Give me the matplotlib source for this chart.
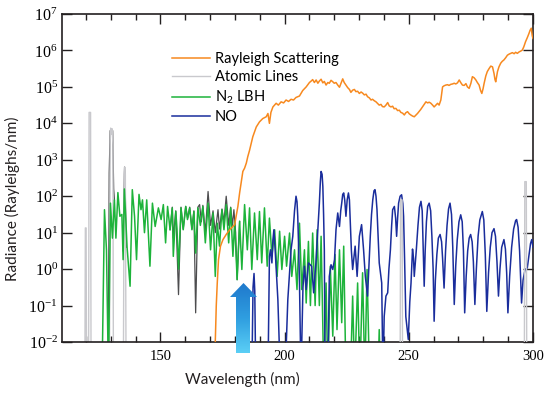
import numpy as np
import matplotlib
matplotlib.use("Agg")
import matplotlib.pyplot as plt
from matplotlib.patches import Polygon
from matplotlib.colors import LinearSegmentedColormap
from matplotlib.ticker import MultipleLocator

plt.rcParams["font.family"] = ["Lato", "DejaVu Sans"]
plt.rcParams["mathtext.fontset"] = "custom"
plt.rcParams["mathtext.rm"] = "Liberation Serif"
plt.rcParams["mathtext.it"] = "Liberation Serif:italic"
plt.rcParams["mathtext.sf"] = "Lato"

nan = float("nan")

# log10 of radiance (Rayleighs/nm); -3 = below the plot
ray_wl = [171.9, 172.1, 172.5, 172.9, 173.4, 174.2, 175.2, 176.5, 177.9, 179.2,
          179.9, 180.5, 181.2, 181.9, 182.5, 183.2, 183.9, 184.6, 185.2, 185.9,
          187.2, 188.6, 189.9, 191.2, 192.6, 193.3, 193.9, 194.5, 195.3, 196.6,
          197.5, 198.6, 199.6, 200.6, 201.6, 202.6, 203.6, 204.6, 206.0, 207.3,
          208.7, 210.0, 210.7, 211.3, 212.0, 212.7, 213.4, 214.0, 214.7, 215.4,
          216.0, 216.7, 217.4, 218.0, 218.7, 219.4, 220.0, 220.7, 221.4, 222.1,
          222.7, 223.4, 224.0, 224.7, 225.4, 226.1, 226.7, 227.4, 228.1, 228.7,
          229.4, 230.1, 230.8, 231.4, 232.1, 232.8, 233.4, 234.1, 234.8, 235.4,
          236.1, 236.8, 237.4, 238.1, 238.8, 239.4, 240.1, 240.8, 241.5, 242.1,
          242.8, 243.5, 244.1, 244.8, 245.5, 246.2, 246.8, 247.5, 248.2, 248.8,
          249.5, 250.2, 250.8, 251.5, 252.2, 252.8, 253.5, 254.2, 254.8, 255.5,
          256.2, 256.9, 257.6, 258.2, 258.9, 259.6, 260.2, 260.9, 261.6, 262.2,
          262.9, 263.6, 264.2, 264.9, 265.6, 266.2, 266.9, 267.6, 268.3, 268.9,
          269.6, 270.3, 270.9, 271.6, 272.3, 273.0, 273.6, 274.3, 275.0, 275.6,
          276.3, 277.0, 277.6, 278.3, 278.9, 279.4, 279.9, 280.3, 281.0, 281.6,
          282.3, 283.0, 283.7, 284.3, 284.7, 285.0, 285.4, 285.7, 286.3, 287.0,
          287.6, 288.3, 289.0, 289.7, 290.4, 291.0, 291.7, 292.4, 293.0, 293.7,
          294.4, 295.0, 295.7, 296.3, 297.0, 297.7, 298.4, 298.8, 299.3, 299.7,
          300.0]
ray_exp = [-3, -2.0, -1.0, -0.38, 0.26, 0.63, 0.81, 0.95, 1.08, 1.17,
           1.22, 1.45, 1.72, 2.09, 2.36, 2.68, 2.77, 2.91, 3.09, 3.26,
           3.63, 3.9, 4.04, 4.13, 4.18, 4.27, 4.0, 4.3, 4.45, 4.55,
           4.5, 4.59, 4.56, 4.64, 4.6, 4.66, 4.64, 4.71, 4.75, 4.9,
           5.0, 5.12, 5.16, 5.2, 5.12, 5.19, 5.1, 5.16, 5.21, 5.11,
           5.15, 5.05, 5.12, 5.1, 5.18, 5.14, 5.1, 5.12, 5.05, 4.99,
           5.1, 5.22, 5.12, 5.05, 4.98, 4.93, 4.85, 4.91, 4.93, 4.87,
           4.88, 4.82, 4.86, 4.83, 4.78, 4.8, 4.73, 4.7, 4.64, 4.66,
           4.62, 4.59, 4.55, 4.5, 4.52, 4.46, 4.45, 4.5, 4.57, 4.48,
           4.45, 4.47, 4.4, 4.41, 4.35, 4.36, 4.3, 4.28, 4.23, 4.29,
           4.32, 4.26, 4.23, 4.2, 4.18, 4.22, 4.27, 4.33, 4.38, 4.45,
           4.52, 4.59, 4.56, 4.58, 4.55, 4.5, 4.45, 4.5, 4.55, 4.5,
           4.64, 5.0, 5.03, 5.05, 5.06, 5.04, 5.07, 5.08, 5.1, 5.08,
           5.11, 5.19, 5.12, 5.05, 5.04, 5.09, 5.0, 4.96, 5.1, 5.28,
           5.25, 5.19, 5.12, 5.05, 4.9, 4.82, 4.95, 5.09, 5.3, 5.42,
           5.5, 5.57, 5.55, 5.37, 5.2, 5.14, 5.3, 5.42, 5.55, 5.65,
           5.7, 5.74, 5.8, 5.87, 5.9, 5.92, 5.94, 5.91, 5.95, 5.92,
           5.96, 5.98, 6.01, 6.1, 6.24, 6.35, 6.47, 6.55, 6.61, 6.4,
           6.33]

atomic_wl = [119.6, 119.8, 120.1, 120.3, 121.1, 121.3, 121.9, 122.1,
             129.5, 129.8, 130.0, 130.3, 130.6, 130.9, 131.1,
             135.1, 135.4, 135.6, 135.9, 136.2,
             246.5, 246.7, 247.3, 247.5, 296.5, 296.7, 297.3, 297.5]
atomic_exp = [-3, 1.13, 1.13, -3, -3, 4.3, 4.3, -3,
              -3, 3.5, 3.87, 3.7, 3.85, 3.4, -3,
              -3, 2.6, 2.8, 2.6, -3,
              -3, 1.9, 1.9, -3, -3, 2.4, 2.4, -3]

lbh_wl = [126.5, 127.5, 128.3, 129.1, 129.9, 130.7, 131.5, 132.1, 132.9, 133.7,
          134.5, 135.0, 135.5, 136.6, 137.8, 138.7, 139.6, 140.4, 141.4, 142.2,
          142.8, 143.6, 144.5, 145.8, 146.8, 147.9, 149.2, 150.3, 151.2, 152.1,
          152.9, 153.9, 154.8, 155.2, 156.2, 156.7, 157.3, 158.3, 159.2, 160.2,
          160.9, 161.8, 162.7, 163.5, 164.2, 165.1, 166.1, 167.1, 168.1, 169.2,
          170.2, 171.2, 172.1, 172.9, 173.8, 174.8, 175.6, 176.5, 177.5, 178.3,
          179.2, 179.9, 180.9, 181.9, 182.8, 183.9, 185.0, 185.9, 186.8, 187.9,
          189.0, 189.9, 190.8, 191.9, 193.0, 193.9, 194.9, 196.0, 197.0, 198.0,
          198.9, 200.0, 200.8, 202.0, 202.9, 204.0, 205.0, 206.0, 206.9, 208.0,
          208.7, 209.6, 210.4, 211.3, 212.3, 213.1, 214.0, 214.7, 215.8, 216.7,
          217.4, 218.4, 219.4, 220.3, 221.1, 222.1, 223.0, 223.8, 224.7, 226.5,
          227.4, 228.2, 229.4, 230.3, 231.4, 232.3, 233.2, 234.2, 237.6, 238.1,
          238.6]
lbh_exp = [-3, 1.63, 0.53, -3, 1.81, 0.85, 1.9, 0.85, 2.1, 1.45,
           1.5, 0.26, 2.2, 0.6, -0.47, 2.18, 1.45, 0.26, 2.05, 1.63,
           1.9, 1.0, 1.9, 0.08, 1.81, 1.17, 1.68, 1.36, 1.77, 0.72,
           1.72, 1.08, 1.68, 0.35, 1.58, 1.1, 0.0, 1.68, 1.08, 1.72,
           1.36, 1.68, 1.08, 1.58, 0.44, 1.68, 1.2, 1.72, 0.72, 1.81,
           0.53, 1.54, -0.2, 1.26, 0.63, 1.63, 1.08, 1.77, 0.72, 1.68,
           0.35, 1.3, -0.29, 1.31, -0.01, 1.77, 0.53, 1.68, -0.01, 1.54,
           0.26, 1.58, 0.17, 1.68, 0.08, 1.4, 0.35, 1.08, -0.2, 1.04,
           -0.01, 0.9, 0.08, 0.99, -0.2, 0.53, -0.56, 1.26, -0.56, 0.53,
           -0.93, 0.76, -1.0, 0.99, -1.0, 1.08, -1.0, 0.9, -3, -0.38,
           -3, 0.08, -1.84, 0.4, -1.66, 0.53, -1.47, 0.63, -3, -3,
           -0.74, -3, -0.38, -3, -0.1, -3, -0.01, -3, -3, -1.66,
           -3]

# darker grey curve that shows from behind the LBH bands
total_wl = [129.0, 129.4, 129.8, 130.3, 130.8, 131.2, 131.5, 132.0,
            135.0, 135.3, 135.6, 135.9, 136.3, 136.6,
            153.9, 154.8, 155.2, 156.2, 157.3, 158.3, 159.2, 160.2, 161.0, 161.8,
            162.7, 163.5, 164.2, 165.1, 165.8, 166.5, 167.1, 168.1, 169.2, 170.2,
            171.2, 172.1, 173.2, 173.8, 174.8, 175.6, 176.5, 177.5, 178.3, 179.0,
            179.6, 180.3, 180.9, 181.9]
total_exp = [-3, 2.65, 3.8, 3.7, 3.8, 2.2, 1.9, nan,
             0.5, 2.0, 2.8, 2.0, 0.6, nan,
             1.08, 1.7, 0.85, 1.6, -0.7, 1.7, 1.1, 1.72, 1.4, 1.7,
             1.1, 1.6, -1.2, 1.7, 1.77, 1.3, 1.75, 1.0, 2.13, 1.2,
             1.6, 1.0, 1.63, 1.1, 1.65, 1.3, 2.0, 1.2, 1.7, 1.2,
             1.63, 1.0, -0.29, 1.31]

no_wl = [186.8, 187.3, 187.7, 188.0, 188.4, 193.3, 193.9, 194.3, 194.9, 195.3,
         195.7, 196.2, 197.3, 198.3, 200.2, 201.3, 202.6, 203.3, 204.0, 204.6,
         205.0, 205.3, 205.7, 206.0, 206.6, 207.4, 208.0, 208.7, 209.6, 210.9,
         211.7, 212.7, 213.4, 214.0, 214.4, 214.7, 215.1, 215.4, 215.7, 216.0,
         216.3, 217.4, 218.0, 218.7, 219.4, 220.1, 220.7, 221.4, 222.1, 222.6,
         223.0, 223.4, 223.8, 224.2, 224.7, 225.2, 225.7, 226.1, 226.5, 226.9,
         227.4, 228.4, 229.2, 230.1, 231.0, 231.8, 232.5, 233.4, 234.5, 235.0,
         235.5, 236.0, 236.4, 236.8, 237.2, 237.6, 238.1, 239.1, 239.6, 240.1,
         240.8, 241.5, 242.0, 242.6, 243.1, 243.5, 244.2, 244.7, 245.1, 245.5,
         245.9, 246.5, 247.1, 247.6, 247.9, 248.3, 248.8, 249.8, 250.4, 250.9,
         251.5, 251.9, 252.2, 253.0, 253.7, 254.3, 254.9, 255.4, 255.8, 256.2,
         256.6, 257.1, 257.6, 258.2, 258.8, 259.3, 259.8, 260.2, 260.7, 261.3,
         261.9, 262.6, 263.2, 263.6, 264.2, 264.8, 265.4, 266.0, 266.6, 267.2,
         267.7, 268.3, 268.9, 269.5, 270.2, 270.9, 271.5, 272.0, 272.5, 273.1,
         273.7, 274.3, 274.9, 275.5, 276.0, 276.6, 277.2, 277.9, 278.6, 279.6,
         280.2, 280.8, 281.4, 282.1, 282.8, 283.5, 284.3, 284.9, 285.5, 286.1,
         286.7, 287.4, 288.3, 288.9, 289.4, 289.9, 290.6, 291.4, 292.2, 293.0,
         293.4, 294.0, 294.6, 295.4, 296.0, 296.8, 297.7, 298.4, 299.0, 299.5,
         300.0]
no_exp = [-3, -0.5, -0.12, -0.6, -3, -3, 0.35, 0.53, 0.17, 0.8,
          1.08, 0.53, -0.84, -3, -3, -0.84, 0.53, 0.9, 1.6, 2.0,
          1.85, 1.45, 0.5, -0.38, -3, -0.5, 0.08, -0.56, 0.17, 0.08,
          -0.65, 0.26, 1.08, 1.81, 2.4, 2.68, 2.6, 2.27, 1.5, 0.53,
          -3, -3, -0.2, 0.12, -0.01, 0.26, 1.08, 1.54, 1.17, 1.6,
          1.81, 2.05, 2.09, 1.9, 1.45, 1.9, 2.09, 1.9, 1.17, 0.5,
          -0.01, 0.63, -0.2, 0.9, 1.22, 0.53, -0.2, -0.74, 0.9, 1.5,
          1.9, 2.15, 2.18, 2.0, 1.63, 1.0, 0.17, -0.38, -3, -1.3,
          -0.74, -0.65, 0.0, 0.53, 1.2, 1.63, 1.72, 1.4, 0.9, 1.4,
          1.81, 2.0, 2.04, 1.8, 1.45, 0.3, -1.3, -1.93, -0.9, -0.38,
          0.55, 0.3, -0.2, 0.5, 1.2, 1.7, 1.86, 1.6, 0.6, -0.47,
          0.5, 1.3, 1.72, 1.81, 1.6, 0.9, 0.0, -1.43, -0.3, 0.4,
          0.85, 0.95, 0.75, 0.3, -0.52, 0.5, 1.2, 1.65, 1.81, 1.5,
          0.6, -0.97, 0.1, 0.8, 1.3, 1.49, 1.3, 0.5, -1.2, -0.2,
          0.5, 0.85, 0.95, 0.75, 0.2, -0.97, 0.0, 0.9, 1.35, 1.58,
          1.35, 0.4, -1.16, -0.1, 0.6, 1.0, 1.11, 0.9, 0.2, -0.74,
          0.0, 0.6, 0.81, 0.55, -0.1, -1.2, -0.2, 0.6, 1.1, 1.33,
          1.36, 1.15, 0.5, -0.93, -0.3, -0.01, 0.03, 0.4, 0.7, 0.81,
          0.6]

series_labels = ["Rayleigh Scattering", "Atomic Lines", "N$_\\mathsf{2}$ LBH", "NO"]
c_ray, c_atom, c_lbh, c_no, c_total = "#f7891f", "#c9c9cd", "#1db33a", "#1a2d9c", "#4d4d4f"

W, H = 550, 394
fig = plt.figure(figsize=(W / 100, H / 100), dpi=100)
ax = fig.add_axes([62 / W, 1 - 342 / H, (533 - 62) / W, (342 - 14) / H])

atomic_wl = np.array(atomic_wl)
atomic_val = 10.0 ** np.array(atomic_exp)
far = atomic_wl > 200

ax.plot(total_wl, 10.0 ** np.array(total_exp), color=c_total, lw=0.9, zorder=1.5)
ax.plot(atomic_wl[~far], atomic_val[~far], color=c_atom, lw=1.0, zorder=1.8)
l_lbh, = ax.plot(lbh_wl, 10.0 ** np.array(lbh_exp), color=c_lbh, lw=1.1, zorder=2)
l_no, = ax.plot(no_wl, 10.0 ** np.array(no_exp), color=c_no, lw=1.1, zorder=3)
l_atom, = ax.plot(atomic_wl[far], atomic_val[far], color=c_atom, lw=1.0, zorder=3.2)
l_ray, = ax.plot(ray_wl, 10.0 ** np.array(ray_exp), color=c_ray, lw=1.1, zorder=4)

ax.set_yscale("log")
ax.set_xlim(110.4, 300)
ax.set_ylim(1e-2, 1e7)

ax.xaxis.set_major_locator(MultipleLocator(50))
ax.xaxis.set_minor_locator(MultipleLocator(10))
ax.set_yticks(10.0 ** np.arange(-2, 8))
ax.set_yticklabels(["$10^{%d}$" % e for e in range(-2, 8)])
ax.yaxis.set_minor_locator(plt.NullLocator())

ax.tick_params(which="both", direction="in", top=True, right=True, color="#231f20", width=1.0)
ax.tick_params(which="major", length=7)
ax.tick_params(which="minor", length=4)
ax.tick_params(axis="x", pad=6, labelsize=10.5)
ax.tick_params(axis="y", pad=3, labelsize=11.5)
for t in ax.get_xticklabels():
    t.set_fontfamily("Liberation Serif")
for s in ax.spines.values():
    s.set_linewidth(1.2)
    s.set_color("#231f20")

ax.set_xlabel("Wavelength (nm)", fontsize=11, color="#231f20")
ax.set_ylabel("Radiance (Rayleighs/nm)", fontsize=11, color="#231f20")
ax.xaxis.set_label_coords(0.384, -0.09)
ax.yaxis.set_label_coords(-0.089, 0.436)

ax.legend([l_ray, l_atom, l_lbh, l_no], series_labels, loc="upper left",
          bbox_to_anchor=(172 / W, 1 - 52 / H), bbox_transform=fig.transFigure,
          frameon=False, fontsize=10.5, handlelength=2.6, handletextpad=0.35,
          labelspacing=0.3, borderpad=0, borderaxespad=0)

# blue arrow drawn in pixel space, on top of everything
ov = fig.add_axes([0, 0, 1, 1], zorder=10)
ov.set_xlim(0, W)
ov.set_ylim(H, 0)
ov.axis("off")
ov.patch.set_alpha(0)
arrow = Polygon([(243.5, 283), (257, 297), (250, 297), (250, 353),
                 (236, 353), (236, 297), (230, 297)], closed=True,
                facecolor="none", edgecolor="none")
ov.add_patch(arrow)
cmap = LinearSegmentedColormap.from_list("arr", ["#1f78cc", "#2f9ee0", "#5cd0f6"])
grad = np.linspace(0, 1, 100).reshape(-1, 1)
img = ov.imshow(grad, cmap=cmap, extent=(229, 258, 354, 282), aspect="auto")
img.set_clip_path(arrow)

fig.savefig("out.png", dpi=100)
